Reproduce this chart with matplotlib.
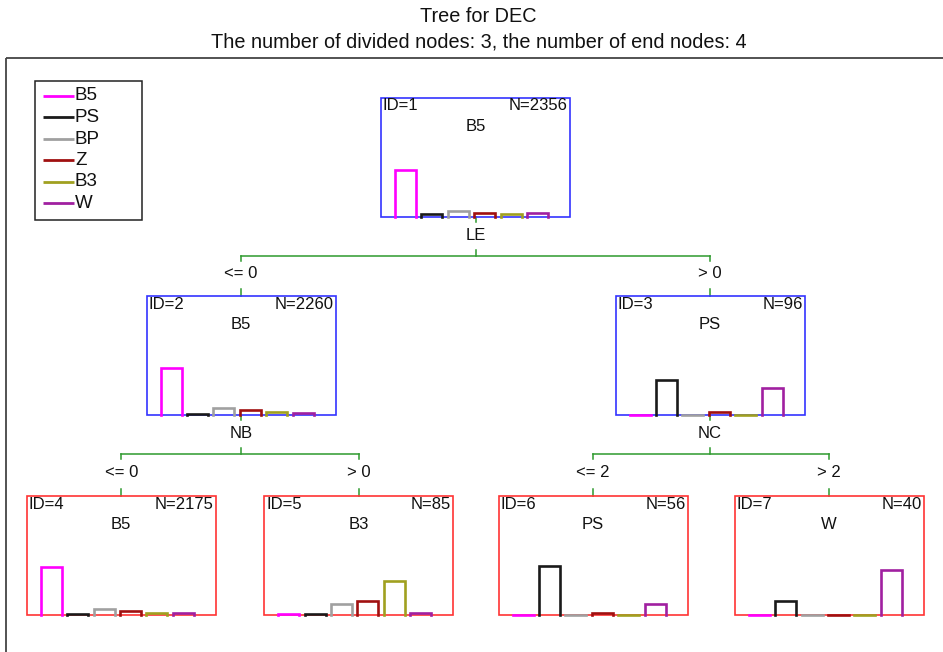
import matplotlib
matplotlib.use("Agg")
import matplotlib.pyplot as plt
from matplotlib.patches import Rectangle

plt.rcParams['font.family'] = ['Liberation Sans', 'DejaVu Sans']

# ---------------- data ----------------
classes = ['B5', 'PS', 'BP', 'Z', 'B3', 'W']
class_colors = ['#FF00FF', '#1A1A1A', '#A0A0A0', '#A01010', '#A0A020', '#A020A0']

node_ids = [1, 2, 3, 4, 5, 6, 7]
node_n = [2356, 2260, 96, 2175, 85, 56, 40]
node_class = ['B5', 'B5', 'PS', 'B5', 'B3', 'PS', 'W']
node_terminal = [False, False, False, True, True, True, True]

# class shares (%) per node, order as in `classes`
share_1 = [72, 4, 8, 6, 4, 6]
share_2 = [73, 1.5, 10, 7, 5, 3]
share_3 = [0, 54, 0, 4, 0, 42]
share_4 = [74, 1.5, 8.5, 5.5, 3, 3]
share_5 = [0.5, 1, 16.5, 22, 52, 3]
share_6 = [0, 76, 0, 3, 0, 16]
share_7 = [0, 22, 0, 0, 0, 70]
shares = [share_1, share_2, share_3, share_4, share_5, share_6, share_7]

# splits: parent id, variable, (left condition, right condition), children ids
split_parent = [1, 2, 3]
split_var = ['LE', 'NB', 'NC']
split_left = ['<= 0', '<= 0', '<= 2']
split_right = ['> 0', '> 0', '> 2']
split_children = [(2, 3), (4, 5), (6, 7)]

title_1 = 'Tree for DEC'
title_2 = 'The number of divided nodes: 3, the number of end nodes: 4'

# ---------------- layout (pixel coordinates) ----------------
W_PX, H_PX = 943, 652
box_cx = {1: 475.5, 2: 241.0, 3: 710.0, 4: 121.3, 5: 358.6, 6: 593.0, 7: 829.2}
box_top = {1: 97.5, 2: 295.7, 3: 295.7, 4: 495.7, 5: 495.7, 6: 495.7, 7: 495.7}
BOX_W, BOX_H = 189.0, 119.0
BAR_SCALE = 64.0 / 100.0   # px per percent
BAR_W, BAR_STEP, BAR_X0 = 21.0, 26.4, 14.0
TXT = '#111111'
FS_NODE = 12
FS_TITLE = 14.3
FS_LEG = 13.5

fig = plt.figure(figsize=(W_PX / 100, H_PX / 100), dpi=100)
ax = fig.add_axes([0, 0, 1, 1])
ax.set_xlim(0, W_PX)
ax.set_ylim(H_PX, 0)
ax.axis('off')

# titles
ax.text(W_PX / 2 + 7, 16, title_1, ha='center', va='center', fontsize=FS_TITLE, color=TXT)
ax.text(W_PX / 2 + 7, 42, title_2, ha='center', va='center', fontsize=FS_TITLE, color=TXT)

# outer frame
ax.add_patch(Rectangle((6, 57.5), 960, 620, fill=False, edgecolor='#444444', lw=1.3, zorder=1))

# legend
leg_x0, leg_y0, leg_x1, leg_y1 = 34.5, 80.5, 141.5, 219.5
ax.add_patch(Rectangle((leg_x0, leg_y0), leg_x1 - leg_x0, leg_y1 - leg_y0,
                       fill=False, edgecolor='#222222', lw=1.1, zorder=3))
for i, (c, col) in enumerate(zip(classes, class_colors)):
    y = 95.5 + i * 21.5
    ax.plot([43, 74], [y, y], color=col, lw=2.0, solid_capstyle='butt', zorder=4)
    ax.text(75, y + 0.5, c, ha='left', va='center', fontsize=FS_LEG, color=TXT)

# nodes
for nid, n, cls, term, sh in zip(node_ids, node_n, node_class, node_terminal, shares):
    left = box_cx[nid] - BOX_W / 2
    top = box_top[nid]
    bottom = top + BOX_H
    ec = '#FF3333' if term else '#3333FF'
    ax.add_patch(Rectangle((left, top), BOX_W, BOX_H, fill=False, edgecolor=ec, lw=1.2, zorder=3))
    ax.text(left + 2, top + 1, f'ID={nid}', ha='left', va='top', fontsize=FS_NODE, color=TXT)
    ax.text(left + BOX_W - 2, top + 1, f'N={n}', ha='right', va='top', fontsize=FS_NODE, color=TXT)
    ax.text(box_cx[nid], top + 29, cls, ha='center', va='center', fontsize=FS_NODE, color=TXT)
    for i, (v, col) in enumerate(zip(sh, class_colors)):
        bl = left + BAR_X0 + i * BAR_STEP
        br = bl + BAR_W
        h = v * BAR_SCALE
        ax.plot([bl, bl, br, br], [bottom, bottom - h, bottom - h, bottom],
                color=col, lw=1.9, solid_joinstyle='miter', zorder=4)

# connectors
GREEN = '#2E9A2E'
for pid, var, lc, rc, (c1, c2) in zip(split_parent, split_var, split_left, split_right, split_children):
    pb = box_top[pid] + BOX_H
    px = box_cx[pid]
    hy = pb + 39
    ax.plot([px, px], [pb, pb + 5], color=GREEN, lw=1.1, zorder=2)
    ax.text(px, pb + 19, var, ha='center', va='center', fontsize=FS_NODE, color=TXT)
    ax.plot([px, px], [pb + 33, hy], color=GREEN, lw=1.1, zorder=2)
    ax.plot([box_cx[c1], box_cx[c2]], [hy, hy], color=GREEN, lw=1.1, zorder=2)
    for ch, cond in ((c1, lc), (c2, rc)):
        cx = box_cx[ch]
        ax.plot([cx, cx], [hy, hy + 5], color=GREEN, lw=1.1, zorder=2)
        ax.text(cx, hy + 18.5, cond, ha='center', va='center', fontsize=FS_NODE, color=TXT)
        ax.plot([cx, cx], [box_top[ch] - 7, box_top[ch]], color=GREEN, lw=1.1, zorder=2)

fig.savefig('out.png', dpi=100)
